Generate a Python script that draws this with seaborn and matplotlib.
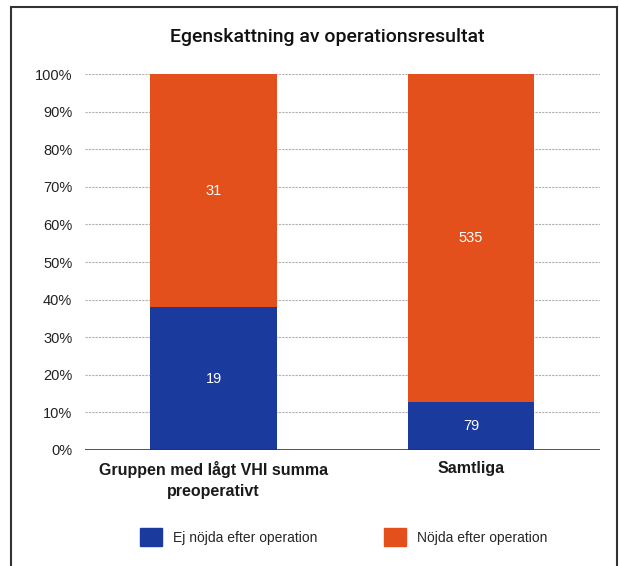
import matplotlib
matplotlib.use("Agg")
import matplotlib.pyplot as plt
import matplotlib.patches as mpatches
import numpy as np
import pandas as pd
import seaborn as sns

# data
categories = ["Gruppen med lågt VHI summa\npreoperativt", "Samtliga"]
ej_nojda = [19, 79]
nojda = [31, 535]
series_names = ["Ej nöjda efter operation", "Nöjda efter operation"]
title = "Egenskattning av operationsresultat"

blue = "#1a3a9e"
orange = "#e4501c"

totals = np.array(ej_nojda) + np.array(nojda)
df = pd.DataFrame({
    "kategori": categories,
    "ej_pct": np.array(ej_nojda) / totals * 100,
    "tot_pct": np.array(totals) / totals * 100,
})

sns.set_theme(style="white")
plt.rcParams["font.family"] = ["Liberation Sans", "DejaVu Sans"]

fig = plt.figure(figsize=(6.19, 5.66), dpi=100)
ax = fig.add_axes([0.137, 0.205, 0.832, 0.664])

# orange full bar first, blue bottom part over it
sns.barplot(data=df, x="kategori", y="tot_pct", color=orange, width=0.49,
            saturation=1, linewidth=0, ax=ax, zorder=2)
sns.barplot(data=df, x="kategori", y="ej_pct", color=blue, width=0.49,
            saturation=1, linewidth=0, ax=ax, zorder=3)

# value labels
for i in range(len(categories)):
    p = df["ej_pct"][i]
    ax.text(i, p / 2, str(ej_nojda[i]), color="white", ha="center", va="center",
            fontsize=10.5, zorder=4)
    ax.text(i, p + (100 - p) / 2, str(nojda[i]), color="white", ha="center",
            va="center", fontsize=10.5, zorder=4)

ax.set_ylim(0, 100)
ax.set_xlim(-0.5, 1.5)
ax.set_yticks(np.arange(0, 101, 10))
ax.set_yticklabels([f"{v}%" for v in range(0, 101, 10)], fontsize=10.5, color="#222222")
ax.tick_params(axis="y", length=0, pad=9)
ax.tick_params(axis="x", length=0, pad=8)
for lbl in ax.get_xticklabels():
    lbl.set_fontweight("bold")
    lbl.set_fontsize(11.5)
    lbl.set_color("#1a1a1a")
    lbl.set_linespacing(1.5)
ax.set_xlabel("")
ax.set_ylabel("")
for s in ax.spines.values():
    s.set_visible(False)
for v in range(10, 101, 10):
    ax.axhline(v, color="#b0b0b0", lw=0.8, ls=(0, (2, 1)), zorder=1)
ax.axhline(0, color="#333333", lw=1.2, zorder=5)

fig.text(0.528, 0.935, title, ha="center", va="center", fontsize=14,
         family=["Roboto", "Liberation Sans", "DejaVu Sans"], fontweight="medium",
         color="#111111")

handles = [mpatches.Patch(color=blue), mpatches.Patch(color=orange)]
fig.legend(handles, series_names, loc="center", bbox_to_anchor=(0.555, 0.051),
           ncol=2, frameon=False, fontsize=10, handlelength=1.6, handleheight=1.6,
           columnspacing=4.8, handletextpad=0.8)

# outer frame
fig.patches.append(mpatches.Rectangle((0.018, -0.02), 0.979, 1.008,
                                      transform=fig.transFigure, fill=False,
                                      edgecolor="#333333", lw=1.5))

fig.savefig("out.png", dpi=100)
